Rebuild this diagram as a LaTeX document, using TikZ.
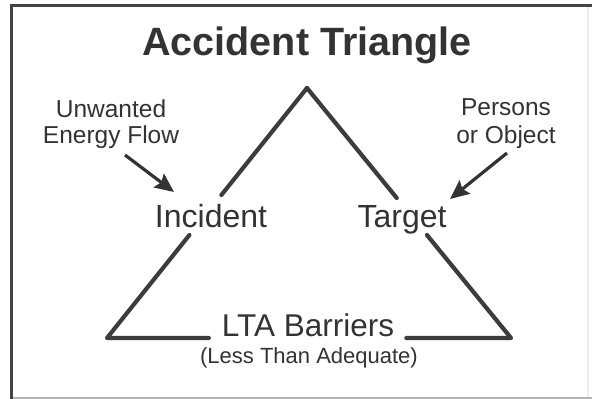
\documentclass[tikz,border=0pt]{standalone}
\usepackage{fontspec}
\setmainfont{Liberation Sans}
\usetikzlibrary{arrows.meta,calc}
\definecolor{ink}{HTML}{333333}
\definecolor{edge}{HTML}{3C3C3C}
\definecolor{frameDark}{HTML}{444444}
\definecolor{frameLight}{HTML}{B4B4B4}
\tikzset{
  label/.style={inner sep=0pt, text=ink, anchor=base},
  side/.style={draw=edge, line width=4.2pt, line cap=round, line join=round},
  pointer/.style={draw=ink, line width=3.2pt, -{Stealth[length=19pt,width=17pt,inset=3pt]}},
}
\begin{document}
\begin{tikzpicture}[x=1pt,y=-1pt]
  % canvas and frame
  \fill[white] (0,0) rectangle (592,399);
  \useasboundingbox (0,0) rectangle (592,399);
  \draw[frameLight, line width=2pt] (11,397.5) -- (592,397.5);
  \draw[black!8, line width=1.5pt] (588,5) -- (588,397);
  \draw[frameDark, line width=3pt] (11.5,399) -- (11.5,5.5) -- (592,5.5);

  % title
  \node[label, font=\bfseries\fontsize{39.5}{42}\selectfont] (title) at (307,55) {Accident Triangle};

  % triangle corners
  \coordinate (apex) at (307,88);
  \coordinate (bl) at (107,338);
  \coordinate (br) at (511,338);

  % vertex labels
  \node[label, font=\fontsize{32}{36}\selectfont] (incident) at (211,227) {Incident};
  \node[label, font=\fontsize{32}{36}\selectfont] (target) at (402,227) {Target};
  \node[label, font=\fontsize{31.5}{36}\selectfont] (lta) at (308,336) {LTA Barriers};
  \node[label, font=\fontsize{22}{26}\selectfont] (ltasub) at (309,363) {(Less Than Adequate)};

  % side labels (base anchor sits on the last line)
  \node[label, align=center, font=\fontsize{24.5}{26}\selectfont] (energy) at (111,143) {Unwanted\\Energy Flow};
  \node[label, align=center, font=\fontsize{24.5}{27.5}\selectfont] (persons) at (506,143) {Persons\\or Object};

  % triangle sides, broken around the labels
  \draw[side] (apex) -- ($(apex)!0.428!(bl)$);
  \draw[side] ($(apex)!0.588!(bl)$) -- (bl) -- ($(bl)!0.252!(br)$);
  \draw[side] (apex) -- ($(apex)!0.44!(br)$);
  \draw[side] ($(apex)!0.588!(br)$) -- (br) -- ($(bl)!0.741!(br)$);

  % arrows into the vertices
  \coordinate (energyTail) at (125,155);
  \coordinate (energyTip) at (174,192);
  \coordinate (personsTail) at (507,153);
  \coordinate (personsTip) at (450,199);
  \draw[pointer] (energyTail) -- (energyTip);
  \draw[pointer] (personsTail) -- (personsTip);
\end{tikzpicture}
\end{document}
